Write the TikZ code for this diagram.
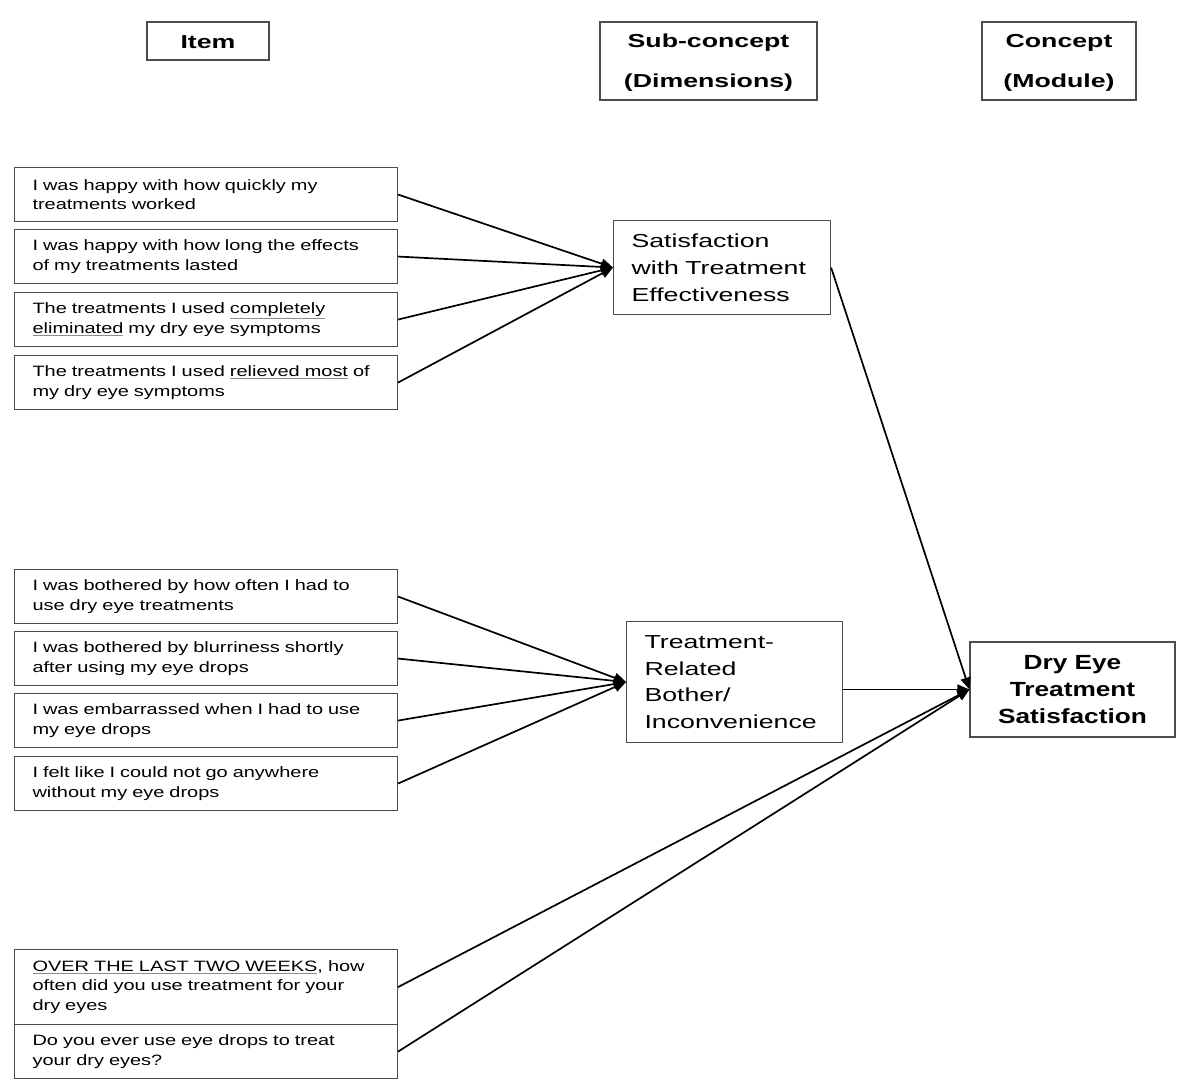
\documentclass[tikz,border=0pt]{standalone}
\usepackage{fontspec}
\usetikzlibrary{arrows.meta}
\setmainfont{Liberation Sans}[FakeStretch=1.42]
\newfontfamily\itemfont{Liberation Sans}[FakeStretch=1.33]
\newfontfamily\dryfont{Liberation Sans}[FakeStretch=1.28]
\newcommand{\ulx}[1]{\textcolor{black!45}{\underline{\textcolor{black}{#1}}}}
\begin{document}
\begin{tikzpicture}[x=1pt,y=-1pt,
  box/.style={draw=black!70,line width=1.1pt,rectangle,inner ysep=0pt,text=black},
  item/.style={box,anchor=north west,minimum height=#1,text width=347pt,inner xsep=18pt,align=left,font=\itemfont\fontsize{15}{19.6}\selectfont},
  hdr/.style={box},
  hdrtext/.style={align=center,inner sep=0pt,text=black,font=\bfseries\fontsize{18.8}{40}\selectfont},
  sub/.style={box,anchor=north west,inner xsep=18pt,align=left,font=\fontsize{18.8}{26.8}\selectfont},
  conn/.style={line width=1.7pt,black,-{Triangle[length=12pt,width=10pt]}}
]
\useasboundingbox (0,0) rectangle (1200,1090);
\fill[white] (0,0) rectangle (1200,1090);

% headers
\node[hdr,minimum width=122pt,minimum height=38pt] (hItem) at (208,41) {};
\node[hdrtext] (hItemT) at (208,42) {Item};
\node[hdr,minimum width=217pt,minimum height=78pt] (hSub) at (708.5,61) {};
\node[hdrtext] (hSubT) at (708.5,63) {Sub-concept\\(Dimensions)};
\node[hdr,minimum width=154pt,minimum height=78pt] (hCon) at (1059,61) {};
\node[hdrtext] (hConT) at (1059,63) {Concept\\(Module)};

% items group 1
\node[item=54pt] (i1) at (14,167) {I was happy with how quickly my\\treatments worked};
\node[item=54pt] (i2) at (14,229) {I was happy with how long the effects\\of my treatments lasted};
\node[item=54pt] (i3) at (14,292) {The treatments I used \ulx{completely}\\\ulx{eliminated} my dry eye symptoms};
\node[item=54pt] (i4) at (14,355) {The treatments I used \ulx{relieved most} of\\my dry eye symptoms};

% items group 2
\node[item=54pt] (i5) at (14,569) {I was bothered by how often I had to\\use dry eye treatments};
\node[item=54pt] (i6) at (14,631) {I was bothered by blurriness shortly\\after using my eye drops};
\node[item=54pt] (i7) at (14,693) {I was embarrassed when I had to use\\my eye drops};
\node[item=54pt] (i8) at (14,756) {I felt like I could not go anywhere\\without my eye drops};

% items group 3
\node[item=75pt] (i9) at (14,949) {\ulx{OVER THE LAST TWO WEEKS}, how\\often did you use treatment for your\\dry eyes};
\node[item=54pt] (i10) at (14,1024) {Do you ever use eye drops to treat\\your dry eyes?};

% sub-concepts
\node[sub,minimum width=217pt,minimum height=94pt,text width=181pt] (sat) at (613,220) {Satisfaction\\with Treatment\\Effectiveness};
\node[sub,minimum width=216pt,minimum height=121pt,text width=180pt] (treat) at (626,621) {Treatment-\\Related\\Bother/\\Inconvenience};

% concept
\node[box,minimum width=205pt,minimum height=95pt,align=center,font=\dryfont\bfseries\fontsize{20.5}{27}\selectfont] (dry) at (1072.5,689.5) {Dry Eye\\Treatment\\Satisfaction};

% connectors
\foreach \n in {i1,i2,i3,i4} \draw[conn] (\n.east) -- (sat.west);
\foreach \n in {i5,i6,i7,i8} \draw[conn] (\n.east) -- (treat.west);
\draw[conn] (sat.east) -- (dry.west);
\draw[conn] (treat.east |- dry.west) -- (dry.west);
\draw[conn] (i9.east) -- (dry.west);
\draw[conn] (i10.east) -- (dry.west);
\end{tikzpicture}
\end{document}
